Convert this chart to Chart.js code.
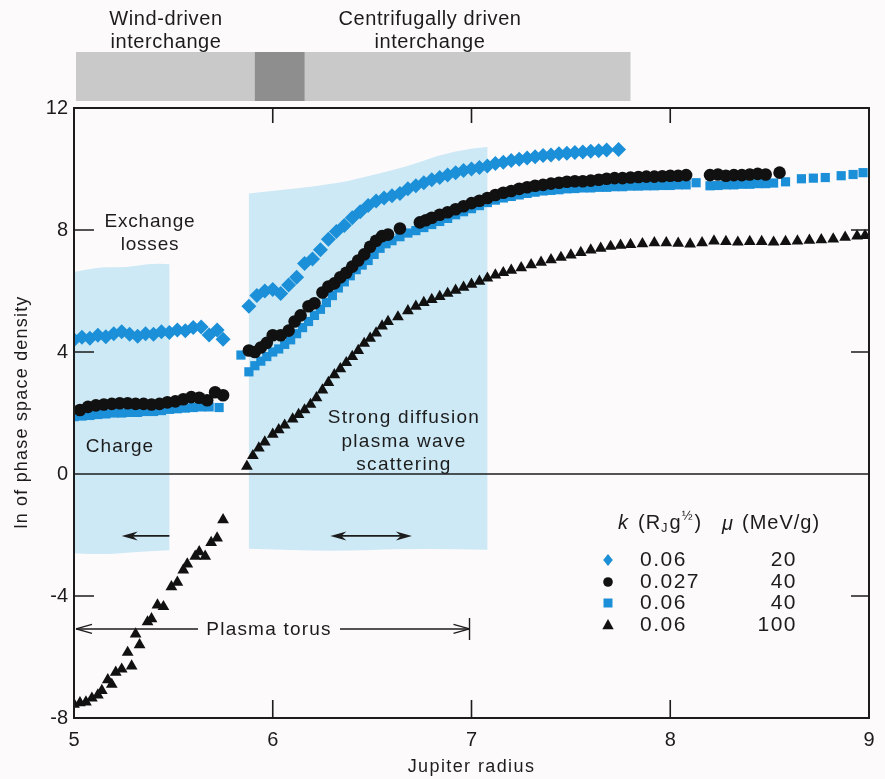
<!DOCTYPE html>
<html>
<head>
<meta charset="utf-8">
<script src="https://cdn.jsdelivr.net/npm/chart.js@4.4.1/dist/chart.umd.min.js"></script>
<style>
body { margin: 0; background: #fdfafc; }
#wrap { width: 885px; height: 779px; }
</style>
</head>
<body>
<div id="wrap"><canvas id="myChart"></canvas></div>
<script>
// x = Jupiter radius, y = ln of phase space density
let diamondPoints = [ // k 0.06, mu 20
  [5.00,4.40],[5.04,4.48],[5.08,4.45],[5.12,4.55],[5.16,4.50],[5.20,4.60],[5.24,4.66],[5.28,4.58],[5.32,4.52],[5.36,4.60],
  [5.40,4.58],[5.44,4.66],[5.48,4.64],[5.52,4.72],[5.56,4.70],[5.60,4.80],[5.64,4.82],[5.68,4.56],[5.72,4.72],[5.75,4.42],
  [5.88,5.50],[5.92,5.85],[5.96,6.00],[6.00,6.05],[6.04,5.92],[6.08,6.20],[6.12,6.45],[6.16,6.90],[6.20,7.05],[6.24,7.35],
  [6.28,7.70],[6.32,7.95],[6.36,8.15],[6.40,8.40],[6.44,8.60],[6.48,8.80],[6.52,8.95],[6.56,9.05],[6.60,9.12],[6.64,9.20],
  [6.68,9.35],[6.72,9.45],[6.76,9.55],[6.80,9.65],[6.84,9.72],[6.88,9.80],[6.92,9.88],[6.96,9.95],[7.00,10.00],[7.04,10.05],
  [7.08,10.10],[7.12,10.18],[7.16,10.22],[7.20,10.28],[7.24,10.32],[7.28,10.36],[7.32,10.40],[7.36,10.44],[7.40,10.46],[7.44,10.50],
  [7.48,10.52],[7.52,10.54],[7.56,10.56],[7.60,10.58],[7.64,10.60],[7.68,10.62],[7.74,10.64]
];

let dotPoints = [ // k 0.027, mu 40
  [5.03,2.10],[5.07,2.20],[5.11,2.25],[5.15,2.28],[5.19,2.30],[5.23,2.32],[5.27,2.32],[5.31,2.30],[5.35,2.30],[5.39,2.28],
  [5.43,2.30],[5.47,2.35],[5.51,2.38],[5.55,2.45],[5.59,2.52],[5.63,2.50],[5.67,2.42],[5.71,2.68],[5.75,2.58],
  [5.88,4.05],[5.91,4.00],[5.94,4.15],[5.97,4.30],[6.00,4.55],[6.04,4.55],[6.08,4.70],[6.11,5.00],[6.14,5.20],[6.18,5.50],
  [6.21,5.60],[6.25,5.95],[6.28,6.15],[6.31,6.25],[6.34,6.45],[6.37,6.60],[6.40,6.80],[6.43,7.00],[6.46,7.20],[6.49,7.45],
  [6.52,7.65],[6.55,7.80],[6.58,7.85],[6.64,8.05],
  [6.74,8.25],[6.77,8.32],[6.80,8.40],[6.84,8.50],[6.88,8.58],[6.92,8.68],[6.96,8.78],[7.00,8.88],[7.04,8.96],[7.08,9.05],
  [7.12,9.15],[7.16,9.22],[7.20,9.28],[7.24,9.35],[7.28,9.40],[7.32,9.45],[7.36,9.48],[7.40,9.52],[7.44,9.55],[7.48,9.58],
  [7.52,9.60],[7.56,9.60],[7.60,9.62],[7.64,9.65],[7.68,9.68],[7.72,9.70],[7.76,9.70],[7.80,9.72],[7.84,9.74],[7.88,9.75],
  [7.92,9.75],[7.96,9.76],[8.00,9.78],[8.04,9.78],[8.08,9.80],
  [8.20,9.80],[8.24,9.82],[8.28,9.78],[8.32,9.80],[8.36,9.80],[8.40,9.82],[8.44,9.84],[8.48,9.82],[8.55,9.88]
];

let squarePoints = [ // k 0.06, mu 40
  [5.00,1.88],[5.04,1.90],[5.08,1.92],[5.12,1.95],[5.16,1.97],[5.20,2.00],[5.24,2.00],[5.28,2.02],[5.32,2.02],[5.36,2.05],
  [5.40,2.05],[5.44,2.08],[5.48,2.12],[5.52,2.14],[5.56,2.16],[5.60,2.18],[5.64,2.20],[5.68,2.20],[5.73,2.18],
  [5.84,3.90],[5.88,3.35],[5.91,3.55],[5.94,3.70],[5.97,3.85],[6.00,4.00],[6.03,4.10],[6.06,4.25],[6.09,4.40],[6.12,4.60],
  [6.15,4.80],[6.18,5.00],[6.21,5.20],[6.24,5.40],[6.27,5.62],[6.30,5.85],[6.33,6.10],[6.36,6.30],[6.39,6.50],[6.42,6.70],
  [6.45,6.85],[6.48,7.00],[6.51,7.20],[6.54,7.40],[6.57,7.55],[6.60,7.65],[6.64,7.78],[6.68,7.90],[6.72,7.98],[6.76,8.08],
  [6.80,8.18],[6.84,8.28],[6.88,8.38],[6.92,8.50],[6.96,8.60],[7.00,8.70],[7.04,8.80],[7.08,8.90],[7.12,8.98],[7.16,9.05],
  [7.20,9.10],[7.24,9.15],[7.28,9.20],[7.32,9.24],[7.36,9.28],[7.40,9.30],[7.44,9.32],[7.48,9.35],[7.52,9.36],[7.56,9.38],
  [7.60,9.38],[7.64,9.40],[7.68,9.40],[7.72,9.42],[7.76,9.42],[7.80,9.44],[7.84,9.44],[7.88,9.45],[7.92,9.45],[7.96,9.46],
  [8.00,9.46],[8.04,9.48],[8.08,9.48],[8.13,9.55],
  [8.20,9.45],[8.24,9.46],[8.28,9.48],[8.32,9.48],[8.36,9.50],[8.40,9.50],[8.44,9.52],[8.48,9.52],[8.52,9.54],[8.58,9.58],
  [8.66,9.68],[8.72,9.70],[8.78,9.72],[8.86,9.78],[8.92,9.82],[8.97,9.88]
];

let trianglePoints = [ // k 0.06, mu 100
  [5.00,-7.55],[5.03,-7.50],[5.06,-7.48],[5.09,-7.35],[5.12,-7.25],[5.14,-7.10],[5.17,-6.75],[5.19,-6.90],[5.21,-6.50],[5.24,-6.40],
  [5.27,-5.85],[5.29,-6.30],[5.31,-5.25],[5.33,-5.60],[5.37,-4.85],[5.39,-4.75],[5.42,-4.30],[5.45,-4.35],[5.49,-3.70],[5.52,-3.55],
  [5.55,-3.15],[5.57,-2.95],[5.61,-2.70],[5.63,-2.55],[5.66,-2.70],[5.69,-2.25],[5.72,-2.10],[5.75,-1.50],
  [5.87,0.25],[5.90,0.60],[5.93,0.85],[5.96,1.05],[6.00,1.30],[6.03,1.45],[6.06,1.60],[6.10,1.80],[6.13,1.95],[6.16,2.10],
  [6.19,2.28],[6.22,2.50],[6.25,2.75],[6.28,3.00],[6.31,3.25],[6.34,3.45],[6.37,3.65],[6.40,3.85],[6.43,4.05],[6.46,4.28],
  [6.49,4.45],[6.52,4.62],[6.55,4.85],[6.58,5.00],[6.63,5.15],[6.68,5.35],[6.72,5.50],[6.76,5.62],[6.80,5.72],[6.84,5.82],
  [6.88,5.92],[6.92,6.02],[6.96,6.12],[7.00,6.22],[7.04,6.32],[7.08,6.42],[7.12,6.52],[7.16,6.60],[7.20,6.68],[7.25,6.76],
  [7.30,6.86],[7.35,6.94],[7.40,7.02],[7.45,7.10],[7.50,7.18],[7.55,7.26],[7.60,7.34],[7.65,7.40],[7.70,7.46],[7.75,7.50],
  [7.80,7.52],[7.86,7.55],[7.92,7.58],[7.98,7.58],[8.04,7.56],[8.10,7.54],[8.16,7.58],[8.22,7.64],[8.28,7.62],[8.34,7.60],
  [8.40,7.62],[8.46,7.62],[8.52,7.60],[8.58,7.62],[8.64,7.64],[8.70,7.66],[8.76,7.68],[8.82,7.70],[8.88,7.76],[8.94,7.80],[8.98,7.82]
];

let xTicks = [5, 6, 7, 8, 9];
let yTicks = [-8, -4, 0, 4, 8, 12];
let legendK = ['0.06', '0.027', '0.06', '0.06'];
let legendMu = ['20', '40', '40', '100'];

let BLUE = '#1b8fd8';
let INK = '#1c1c1c';
let FONT = '"Liberation Sans", Arial, sans-serif';

function toXY(arr){
  return arr.map(function(p){ return { x: p[0], y: p[1] }; });
}

function px(chart, x){ return chart.scales.x.getPixelForValue(x); }
function py(chart, y){ return chart.scales.y.getPixelForValue(y); }

// smooth path through points (data coords)
function curveThrough(ctx, chart, pts){
  let p = pts.map(function(q){ return [px(chart, q[0]), py(chart, q[1])]; });
  ctx.lineTo(p[0][0], p[0][1]);
  for (let i = 1; i < p.length - 1; i++){
    let mx = (p[i][0] + p[i+1][0]) / 2, my = (p[i][1] + p[i+1][1]) / 2;
    ctx.quadraticCurveTo(p[i][0], p[i][1], mx, my);
  }
  ctx.lineTo(p[p.length-1][0], p[p.length-1][1]);
}

function shade(ctx, chart, top, bottom){
  ctx.beginPath();
  ctx.moveTo(px(chart, top[0][0]), py(chart, top[0][1]));
  curveThrough(ctx, chart, top);
  curveThrough(ctx, chart, bottom);
  ctx.closePath();
  ctx.fillStyle = '#cde9f5';
  ctx.fill();
}

function spacedText(ctx, text, x, y, size, spacing, align){
  ctx.font = size + 'px ' + FONT;
  ctx.letterSpacing = spacing + 'px';
  ctx.textAlign = align || 'center';
  ctx.textBaseline = 'middle';
  ctx.fillStyle = INK;
  ctx.fillText(text, x, y);
  ctx.letterSpacing = '0px';
}

function arrowHead(ctx, x, y, dir, filled){
  ctx.beginPath();
  ctx.moveTo(x, y);
  ctx.lineTo(x - dir * 16, y - 4.5);
  if (filled){
    ctx.lineTo(x - dir * 11, y);
    ctx.lineTo(x - dir * 16, y + 4.5);
    ctx.closePath();
    ctx.fill();
  } else {
    ctx.moveTo(x, y);
    ctx.lineTo(x - dir * 16, y + 4.5);
    ctx.stroke();
  }
}

function drawMarker(ctx, style, x, y, r){
  ctx.beginPath();
  if (style == 'diamond'){
    ctx.moveTo(x, y - r); ctx.lineTo(x + r * 0.8, y); ctx.lineTo(x, y + r); ctx.lineTo(x - r * 0.8, y);
    ctx.fillStyle = BLUE;
  } else if (style == 'circle'){
    ctx.arc(x, y, r * 0.8, 0, Math.PI * 2);
    ctx.fillStyle = '#111';
  } else if (style == 'square'){
    ctx.rect(x - r * 0.75, y - r * 0.75, r * 1.5, r * 1.5);
    ctx.fillStyle = BLUE;
  } else {
    ctx.moveTo(x, y - r); ctx.lineTo(x + r * 0.95, y + r * 0.7); ctx.lineTo(x - r * 0.95, y + r * 0.7);
    ctx.fillStyle = '#111';
  }
  ctx.closePath();
  ctx.fill();
}

let decorPlugin = {
  id: 'decor',
  beforeDraw: function(chart){
    let ctx = chart.ctx;
    ctx.save();
    ctx.fillStyle = '#fdfafc';
    ctx.fillRect(0, 0, chart.width, chart.height);
    ctx.restore();
  },
  beforeDatasetsDraw: function(chart){
    let ctx = chart.ctx;
    let a = chart.chartArea;
    ctx.save();
    // shaded regions
    shade(ctx, chart,
      [[5.0,6.62],[5.12,6.80],[5.25,6.76],[5.38,6.90],[5.48,6.88]],
      [[5.48,-2.50],[5.32,-2.55],[5.15,-2.64],[5.0,-2.60]]);
    shade(ctx, chart,
      [[5.88,9.20],[6.10,9.35],[6.34,9.54],[6.50,9.80],[6.67,10.07],[6.84,10.46],[7.0,10.68],[7.08,10.72]],
      [[7.08,-2.48],[6.70,-2.44],[6.30,-2.54],[5.88,-2.45]]);
    // zero line
    ctx.strokeStyle = INK;
    ctx.lineWidth = 1.3;
    ctx.beginPath();
    ctx.moveTo(a.left, py(chart, 0));
    ctx.lineTo(a.right, py(chart, 0));
    ctx.stroke();
    // interchange band above the plot
    ctx.fillStyle = '#c9c9c9';
    ctx.fillRect(px(chart, 5.01), 52, px(chart, 7.80) - px(chart, 5.01), 49);
    ctx.fillStyle = '#8e8e8e';
    ctx.fillRect(px(chart, 5.91), 52, px(chart, 6.16) - px(chart, 5.91), 49);
    ctx.restore();
  },
  afterDatasetsDraw: function(chart){
    let ctx = chart.ctx;
    let a = chart.chartArea;
    ctx.save();
    // frame and inward ticks
    ctx.strokeStyle = INK;
    ctx.lineWidth = 2;
    ctx.strokeRect(a.left, a.top, a.right - a.left, a.bottom - a.top);
    ctx.lineWidth = 1.6;
    ctx.beginPath();
    yTicks.forEach(function(v){
      if (v == -8 || v == 12 || v == 0) return;
      let y = py(chart, v);
      ctx.moveTo(a.left, y); ctx.lineTo(a.left + 20, y);
      ctx.moveTo(a.right, y); ctx.lineTo(a.right - 18, y);
    });
    xTicks.forEach(function(v){
      if (v == 5 || v == 9) return;
      let x = px(chart, v);
      ctx.moveTo(x, a.top); ctx.lineTo(x, a.top + 15);
      ctx.moveTo(x, a.bottom); ctx.lineTo(x, a.bottom - 18);
    });
    ctx.stroke();

    // band labels
    spacedText(ctx, 'Wind-driven', 166, 19, 20, 0.6);
    spacedText(ctx, 'interchange', 166, 42, 20, 0.6);
    spacedText(ctx, 'Centrifugally driven', 430, 19, 20, 0.6);
    spacedText(ctx, 'interchange', 430, 42, 20, 0.6);

    // annotations
    spacedText(ctx, 'Exchange', 150, 222, 19, 0.8);
    spacedText(ctx, 'losses', 150, 245, 19, 0.8);
    spacedText(ctx, 'Charge', 120, 447, 19, 1.0);
    spacedText(ctx, 'Strong diffusion', 404, 418, 19, 1.3);
    spacedText(ctx, 'plasma wave', 404, 442, 19, 1.3);
    spacedText(ctx, 'scattering', 404, 465, 19, 1.3);

    // arrows in the shaded regions
    ctx.strokeStyle = INK;
    ctx.fillStyle = INK;
    ctx.lineWidth = 1.6;
    let ya = py(chart, -2.03);
    ctx.beginPath();
    ctx.moveTo(px(chart, 5.48), ya); ctx.lineTo(px(chart, 5.24) + 6, ya);
    ctx.stroke();
    arrowHead(ctx, px(chart, 5.24), ya, -1, true);
    ctx.beginPath();
    ctx.moveTo(px(chart, 6.29) + 6, ya); ctx.lineTo(px(chart, 6.70) - 6, ya);
    ctx.stroke();
    arrowHead(ctx, px(chart, 6.29), ya, -1, true);
    arrowHead(ctx, px(chart, 6.70), ya, 1, true);

    // plasma torus
    let yt = py(chart, -5.08);
    let xl = px(chart, 5.0) + 2, xr = px(chart, 6.99);
    ctx.lineWidth = 1.4;
    ctx.beginPath();
    ctx.moveTo(xl, yt); ctx.lineTo(198, yt);
    ctx.moveTo(340, yt); ctx.lineTo(xr, yt);
    ctx.moveTo(xr, yt - 11); ctx.lineTo(xr, yt + 11);
    ctx.stroke();
    arrowHead(ctx, xl, yt, -1, false);
    arrowHead(ctx, xr, yt, 1, false);
    spacedText(ctx, 'Plasma torus', 269, yt + 1, 19, 1.2);

    // axis titles
    spacedText(ctx, 'Jupiter radius', (a.left + a.right) / 2, 767, 18, 1.4);
    ctx.save();
    ctx.translate(22, 412);
    ctx.rotate(-Math.PI / 2);
    spacedText(ctx, 'ln of phase space density', 0, 0, 18, 1.2);
    ctx.restore();

    // legend
    ctx.font = 'italic 20px ' + FONT;
    ctx.textAlign = 'left';
    ctx.textBaseline = 'middle';
    ctx.fillStyle = INK;
    ctx.fillText('k', 618, 523);
    ctx.font = '20px ' + FONT;
    ctx.letterSpacing = '1px';
    let x = 638;
    ctx.fillText('(R', x, 523); x += ctx.measureText('(R').width;
    ctx.font = '13px ' + FONT;
    ctx.fillText('J', x, 528); x += ctx.measureText('J').width + 1;
    ctx.font = '20px ' + FONT;
    ctx.fillText('g', x, 523); x += ctx.measureText('g').width;
    ctx.font = '13px ' + FONT;
    ctx.fillText('½', x, 516); x += ctx.measureText('½').width + 1;
    ctx.font = '20px ' + FONT;
    ctx.fillText(')', x, 523);
    ctx.font = 'italic 20px ' + FONT;
    ctx.fillText('μ', 722, 524);
    ctx.font = '20px ' + FONT;
    ctx.fillText('(MeV/g)', 742, 523);
    let styles = ['diamond', 'circle', 'square', 'triangle'];
    let rowY = [560, 582, 603, 625];
    for (let i = 0; i < 4; i++){
      drawMarker(ctx, styles[i], 608, rowY[i], 6);
      spacedText(ctx, legendK[i], 640, rowY[i], 21, 1.5, 'left');
      spacedText(ctx, legendMu[i], 797, rowY[i], 21, 1.5, 'right');
    }
    ctx.restore();
  }
};

let data = {
  datasets: [
    { label: 'dots', data: toXY(dotPoints), pointStyle: 'circle', pointRadius: 6.3,
      backgroundColor: '#111', borderColor: '#111', borderWidth: 0 },
    { label: 'diamonds', data: toXY(diamondPoints), pointStyle: 'rectRot', pointRadius: 7.5,
      backgroundColor: BLUE, borderColor: BLUE, borderWidth: 0 },
    { label: 'squares', data: toXY(squarePoints), pointStyle: 'rect', pointRadius: 6.5,
      backgroundColor: BLUE, borderColor: BLUE, borderWidth: 0 },
    { label: 'triangles', data: toXY(trianglePoints), pointStyle: 'triangle', pointRadius: 6.8,
      backgroundColor: '#111', borderColor: '#111', borderWidth: 0 }
  ]
};

let config = {
  type: 'scatter',
  data: data,
  options: {
    responsive: true,
    maintainAspectRatio: false,
    animation: false,
    layout: { padding: { top: 108, right: 16, left: 0, bottom: 0 } },
    plugins: { legend: { display: false }, tooltip: { enabled: false } },
    scales: {
      x: {
        type: 'linear', min: 5, max: 9,
        afterFit: function(s){ s.height = 61; },
        afterBuildTicks: function(s){ s.ticks = xTicks.map(function(v){ return { value: v }; }); },
        ticks: { color: INK, font: { size: 20, family: FONT }, padding: 10 },
        grid: { display: false, drawTicks: false },
        border: { display: false }
      },
      y: {
        type: 'linear', min: -8, max: 12,
        afterFit: function(s){ s.width = 74; },
        afterBuildTicks: function(s){ s.ticks = yTicks.map(function(v){ return { value: v }; }); },
        ticks: { color: INK, font: { size: 20, family: FONT }, padding: 6 },
        grid: { display: false, drawTicks: false },
        border: { display: false }
      }
    }
  },
  plugins: [decorPlugin]
};

let myChart = new Chart(document.getElementById('myChart'), config);
</script>
</body>
</html>
